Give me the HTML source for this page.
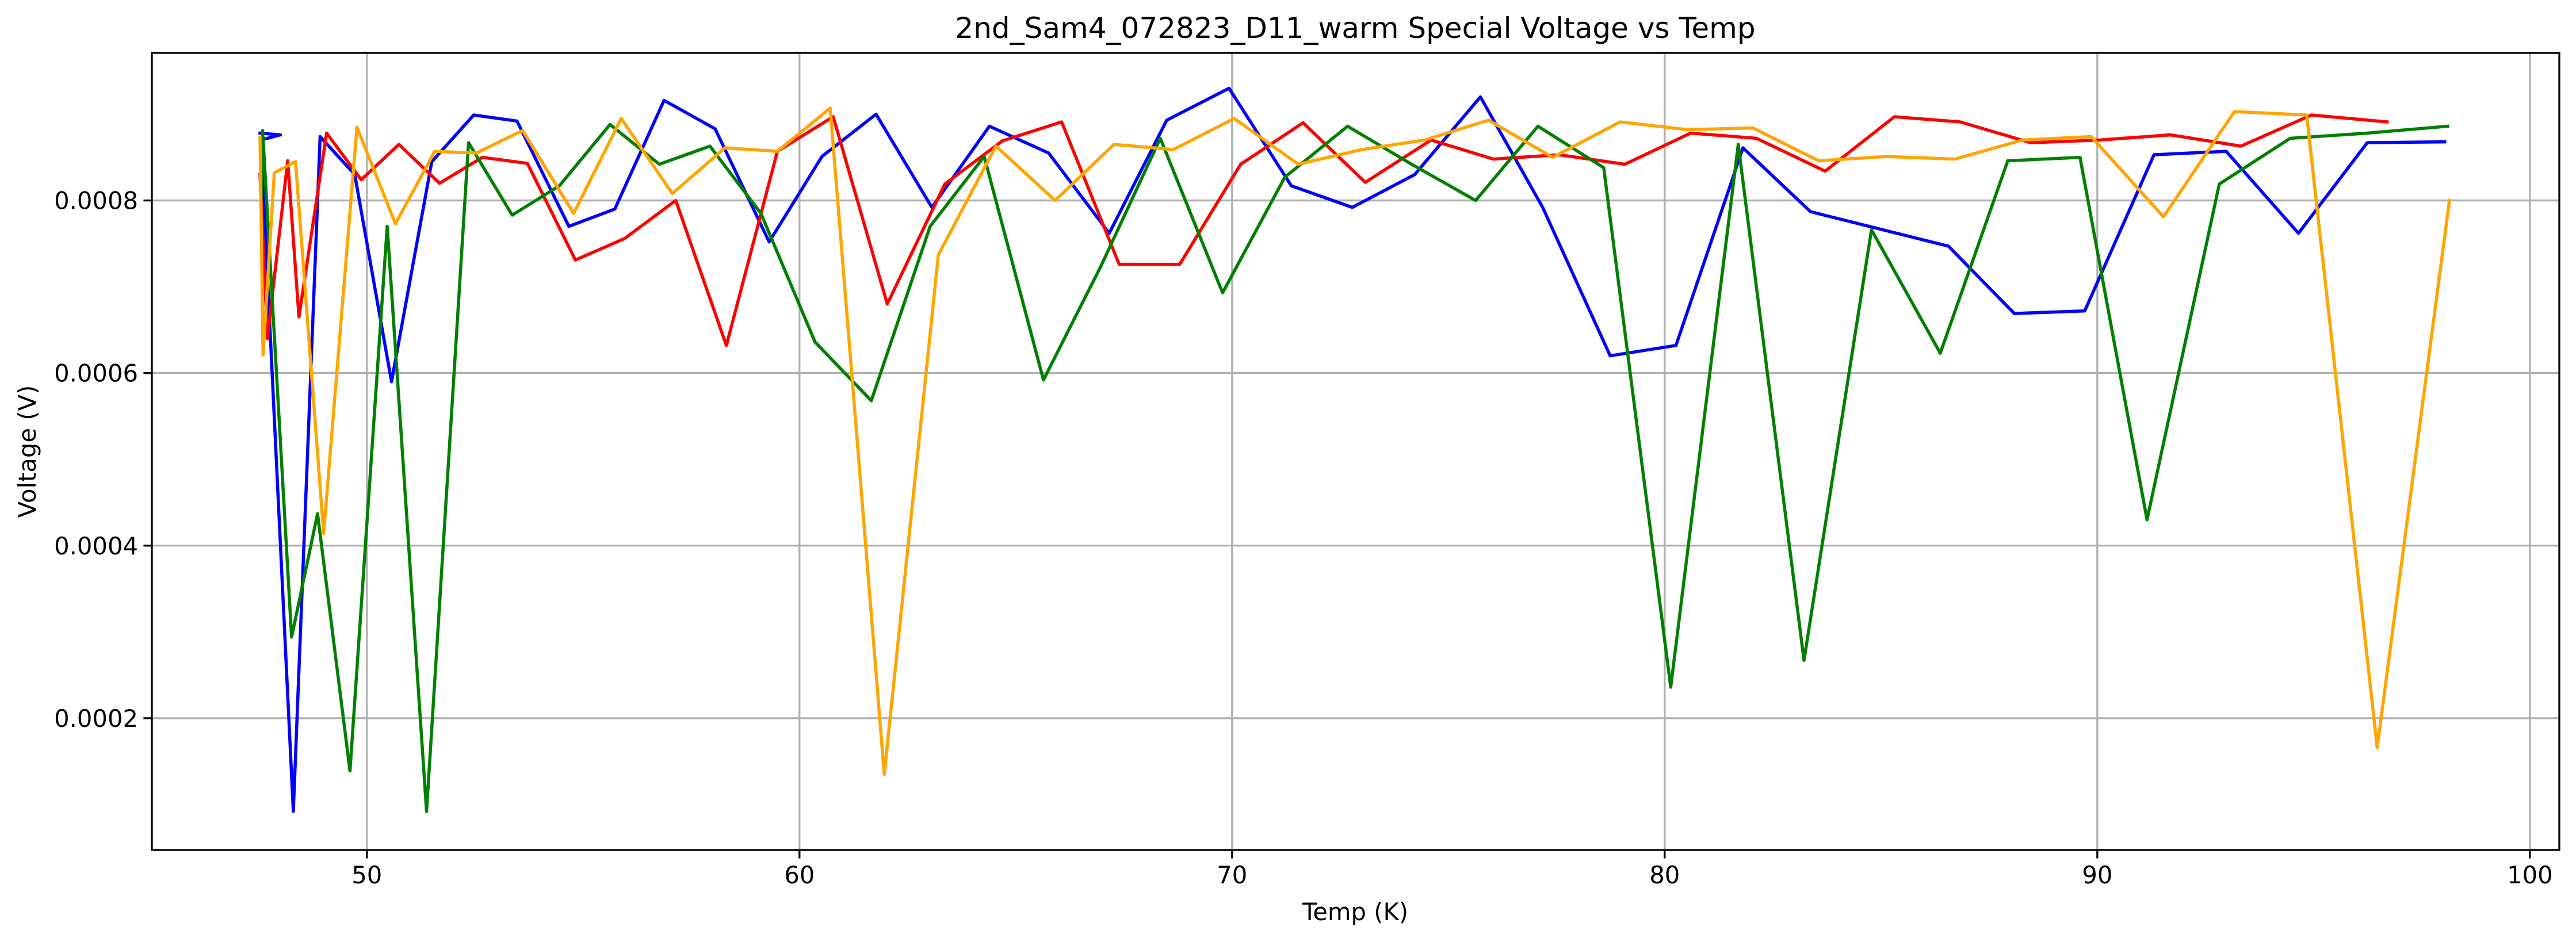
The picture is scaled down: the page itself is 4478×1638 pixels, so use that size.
<!DOCTYPE html>
<html><head><meta charset="utf-8"><style>html,body{margin:0;padding:0;background:#fff}svg{display:block}</style></head>
<body>
<svg id="chart" xmlns="http://www.w3.org/2000/svg" width="4478" height="1638" viewBox="0 0 4478 1638" font-family="'DejaVu Sans','Liberation Sans',sans-serif">
<rect width="4478" height="1638" fill="#fff"/>
<g id="grid"></g>
<g id="series"></g>
<rect x="264" y="92" width="4185" height="1386" fill="none" stroke="#000" stroke-width="3.3"/>
<g id="ticks"></g>
<text x="2356" y="66" font-size="50" text-anchor="middle">2nd_Sam4_072823_D11_warm Special Voltage vs Temp</text>
<text x="2356" y="1600" font-size="41.7" text-anchor="middle">Temp (K)</text>
<text x="62" y="785" font-size="41.7" text-anchor="middle" transform="rotate(-90 62 785)">Voltage (V)</text>
</svg>
<script>
const xTicks=[50,60,70,80,90,100];
const yTicks=[0.0002,0.0004,0.0006,0.0008];
const yTickLabels=["0.0002","0.0004","0.0006","0.0008"];
const blueT=[47.53,48.0,47.55,48.3,48.92,49.72,50.57,51.5,52.47,53.47,54.67,55.73,56.87,58.05,59.3,60.52,61.77,63.06,64.39,65.76,67.16,68.49,69.93,71.37,72.78,74.22,75.74,77.18,78.74,80.26,81.81,83.37,86.56,88.08,89.71,91.31,92.98,94.65,96.24,98.03];
const blueV=[0.000878,0.000876,0.00087,0.000092,0.000874,0.00083,0.00059,0.000845,0.000899,0.000892,0.00077,0.00079,0.000916,0.000883,0.000752,0.000851,0.0009,0.000792,0.000886,0.000855,0.000762,0.000893,0.00093,0.000817,0.000792,0.00083,0.00092,0.000792,0.00062,0.000632,0.000861,0.000787,0.000747,0.000669,0.000672,0.000853,0.000857,0.000762,0.000867,0.000868];
const redT=[47.53,47.7,48.17,48.43,49.07,49.87,50.74,51.68,52.67,53.71,54.82,55.96,57.14,58.31,59.49,60.78,62.03,63.36,64.69,66.06,67.39,68.79,70.2,71.64,73.08,74.6,76.04,77.56,79.08,80.6,82.12,83.71,85.31,86.83,88.46,90.05,91.69,93.32,94.95,96.7];
const redV=[0.00083,0.00064,0.000846,0.000665,0.000878,0.000824,0.000865,0.00082,0.00085,0.000843,0.000731,0.000756,0.0008,0.000632,0.000857,0.000897,0.00068,0.000819,0.000869,0.000891,0.000726,0.000726,0.000842,0.00089,0.000821,0.00087,0.000848,0.000853,0.000842,0.000878,0.000872,0.000834,0.000897,0.000891,0.000867,0.00087,0.000876,0.000863,0.000899,0.000891];
const orangeT=[47.53,47.6,47.86,48.35,49.0,49.77,50.66,51.57,52.53,53.6,54.78,55.88,57.06,58.28,59.49,60.71,61.96,63.21,64.54,65.91,67.27,68.64,70.05,71.53,73.0,74.45,75.93,77.41,78.97,80.52,82.04,83.56,85.12,86.71,88.27,89.86,91.53,93.17,94.84,96.47,98.14];
const orangeV=[0.000873,0.000621,0.000832,0.000845,0.000414,0.000885,0.000773,0.000857,0.000855,0.000881,0.000785,0.000895,0.000808,0.000861,0.000857,0.000907,0.000135,0.000737,0.000863,0.0008,0.000865,0.000859,0.000895,0.000842,0.000859,0.00087,0.000893,0.00085,0.000891,0.000882,0.000884,0.000846,0.000851,0.000848,0.00087,0.000874,0.000781,0.000903,0.000899,0.000166,0.0008];
const greenT=[47.55,47.59,48.26,48.86,49.61,50.47,51.38,52.35,53.36,54.45,55.62,56.76,57.93,59.11,60.36,61.66,63.02,64.27,65.64,66.97,68.34,69.78,71.22,72.67,74.15,75.63,77.07,78.59,80.14,81.7,83.22,84.78,86.37,87.93,89.6,91.15,92.82,94.46,96.24,98.1];
const greenV=[0.000793,0.000881,0.000294,0.000437,0.000139,0.00077,0.000092,0.000867,0.000783,0.000817,0.000888,0.000842,0.000863,0.000785,0.000636,0.000568,0.00077,0.000851,0.000592,0.000724,0.000872,0.000693,0.000827,0.000886,0.000842,0.0008,0.000886,0.000838,0.000236,0.000865,0.000267,0.000766,0.000623,0.000846,0.00085,0.00043,0.000819,0.000872,0.000878,0.000886];

const NS="http://www.w3.org/2000/svg";
const L=264,R=4449,T=92,B=1478;
const xmin=45.03,xmax=100.68,ymin=0.0000473,ymax=0.000971;
const sx=v=>L+(v-xmin)/(xmax-xmin)*(R-L);
const sy=v=>B-(v-ymin)/(ymax-ymin)*(B-T);
function mk(tag,attrs,parent){const e=document.createElementNS(NS,tag);for(const k in attrs)e.setAttribute(k,attrs[k]);parent.appendChild(e);return e;}
const grid=document.getElementById('grid'),ticks=document.getElementById('ticks'),series=document.getElementById('series');
xTicks.forEach(t=>{const x=sx(t);
 const g=mk('line',{x1:x,x2:x,y1:T,y2:B,stroke:'#b0b0b0','stroke-width':3.3},grid);
 
 
 const tk=mk('line',{x1:x,x2:x,y1:B,y2:B+14.6,stroke:'#000','stroke-width':3.3},ticks);
 
 
 const tx=mk('text',{x:x,y:B+58,'font-size':41.7,'text-anchor':'middle'},ticks);tx.textContent=String(t);
 
 
});
yTicks.forEach((t,i)=>{const y=sy(t);
 const g=mk('line',{x1:L,x2:R,y1:y,y2:y,stroke:'#b0b0b0','stroke-width':3.3},grid);
 
 
 const tk=mk('line',{x1:L-14.6,x2:L,y1:y,y2:y,stroke:'#000','stroke-width':3.3},ticks);
 
 
 const tx=mk('text',{x:L-24,y:y+15,'font-size':41.7,'text-anchor':'end'},ticks);tx.textContent=yTickLabels[i];
 
 
});
[[blueT,blueV,'#0000ff','blue'],[redT,redV,'#ff0000','red'],[greenT,greenV,'#008000','green'],[orangeT,orangeV,'#ffa500','orange']].forEach(s=>{
 const pts=s[0].map((t,i)=>sx(t).toFixed(1)+','+sy(s[1][i]).toFixed(1)).join(' ');
 const p=mk('polyline',{points:pts,fill:'none',stroke:s[2],'stroke-width':5.5,'stroke-linejoin':'round','stroke-linecap':'square'},series);
 
 
});
</script>
</body></html>
